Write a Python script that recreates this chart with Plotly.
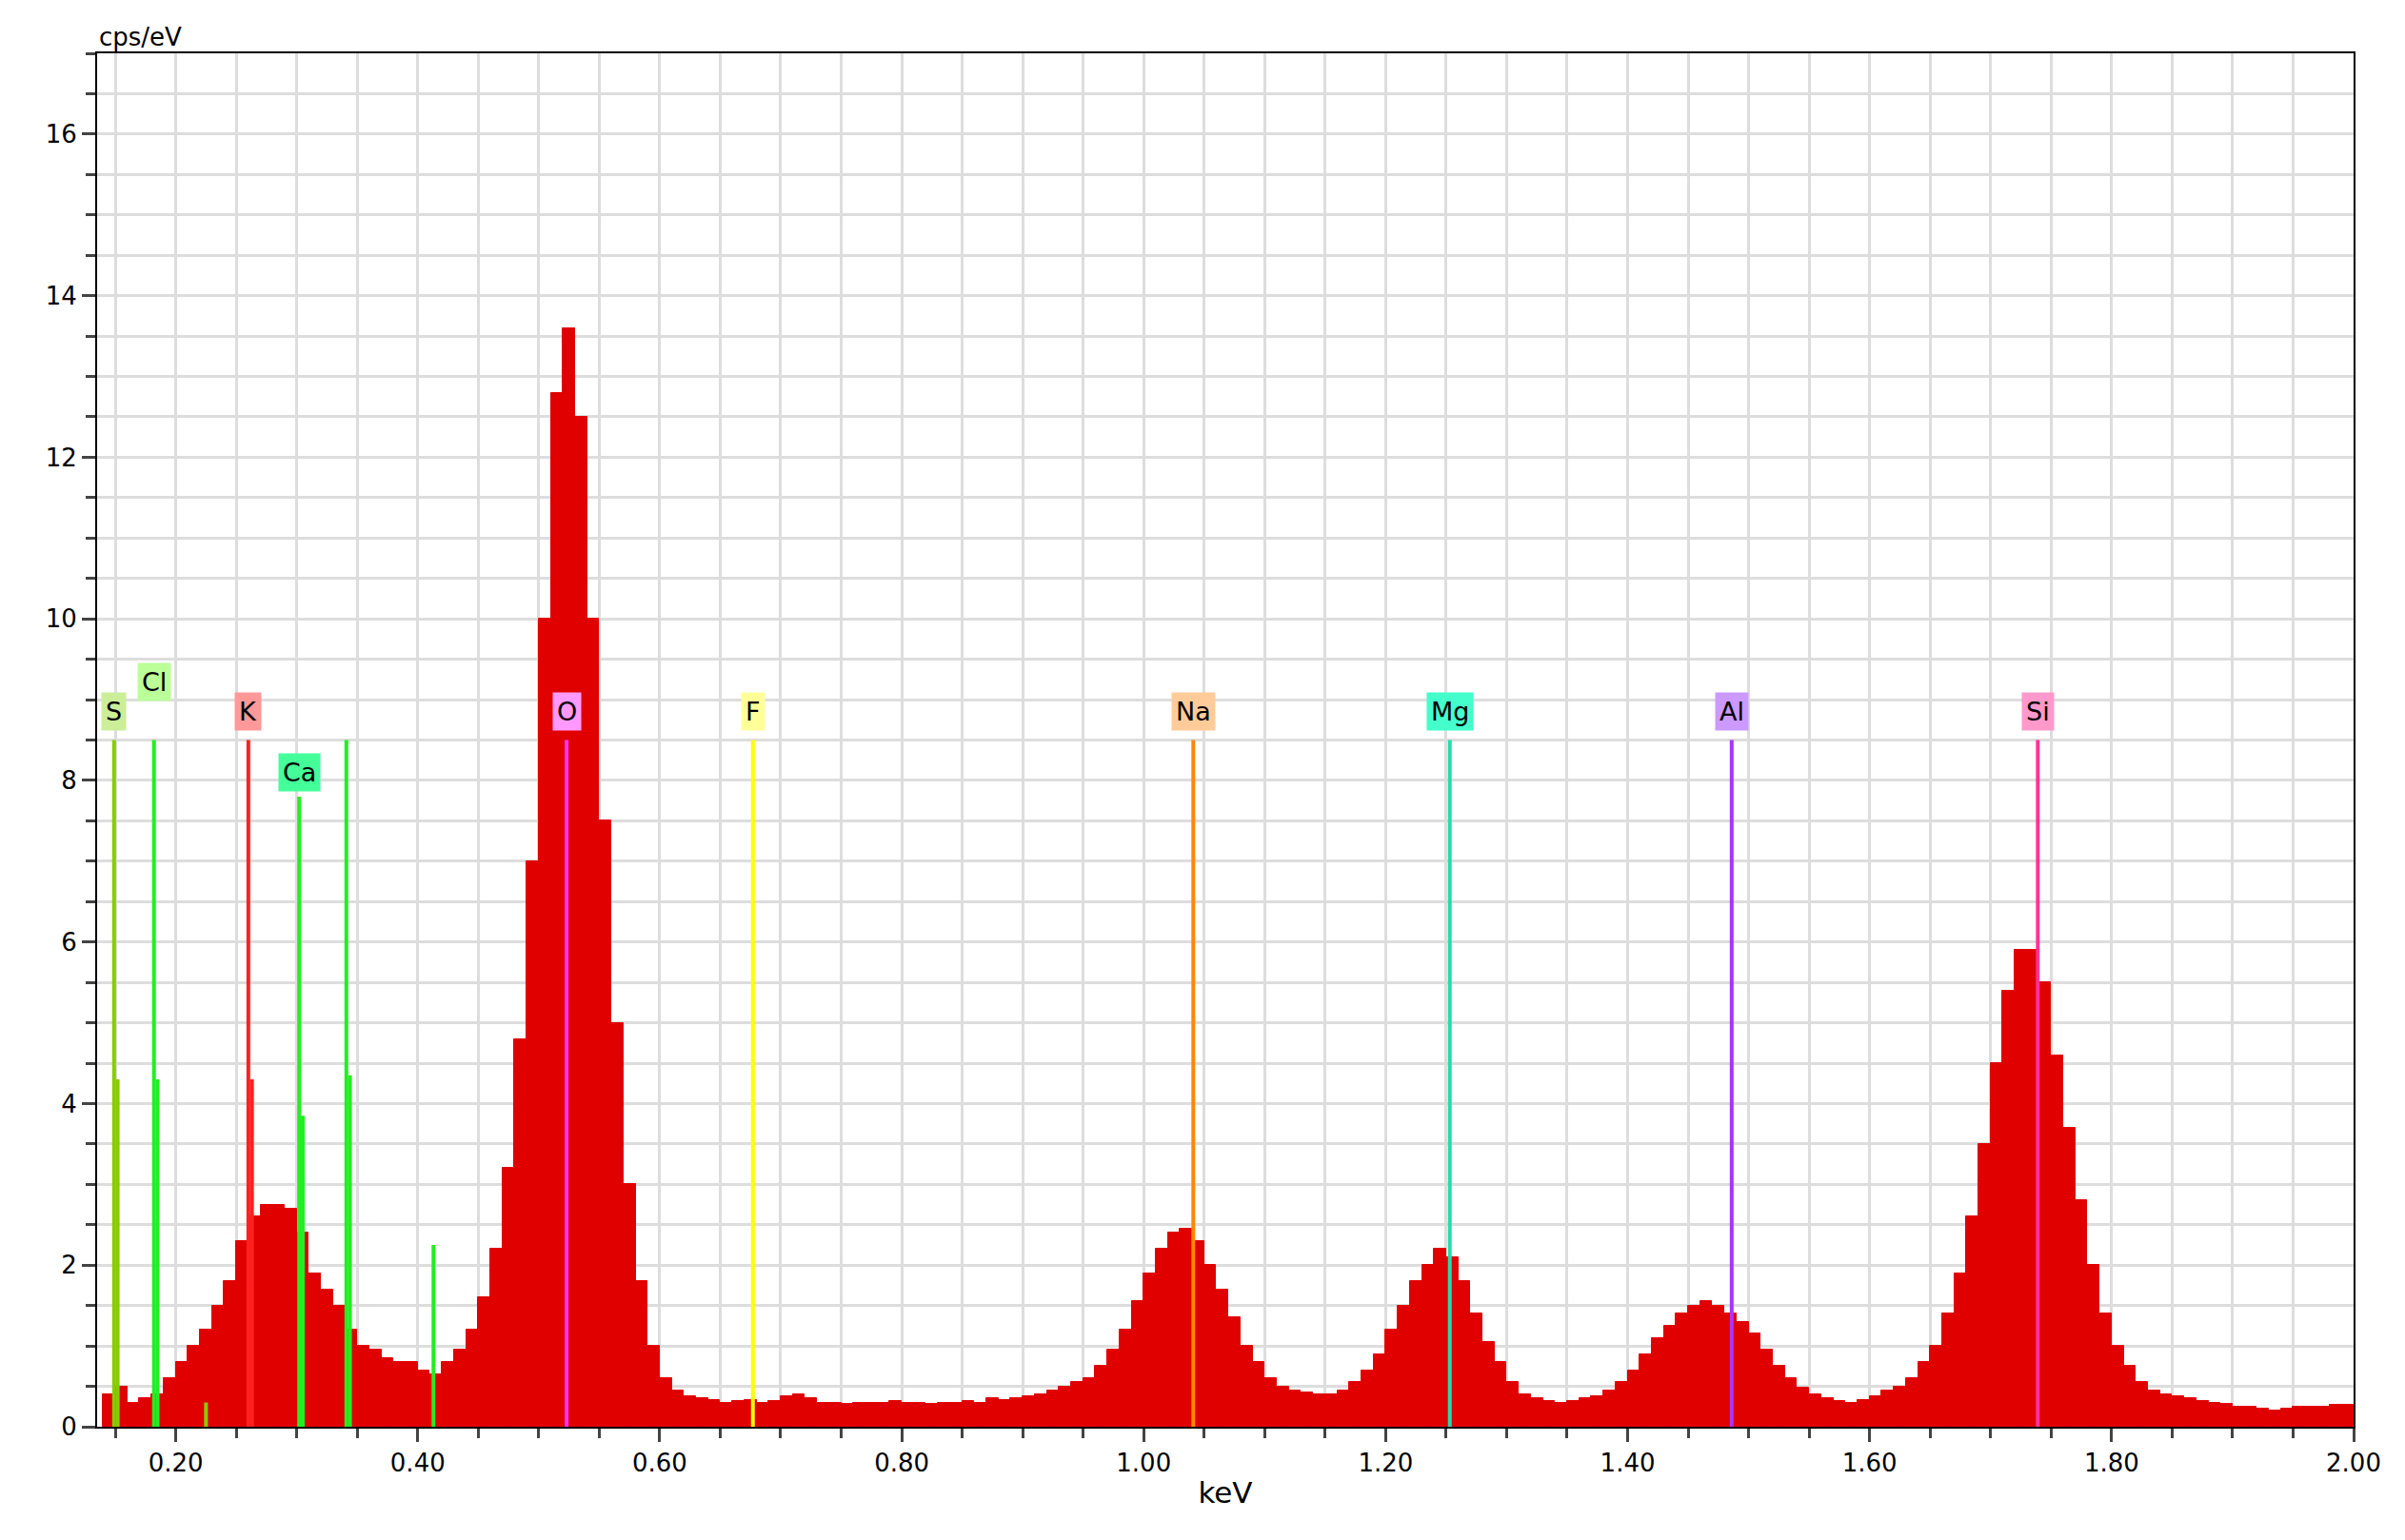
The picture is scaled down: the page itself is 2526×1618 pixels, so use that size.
import plotly.graph_objects as go

# spectrum, 10 eV channels starting at 0.14 keV
energy_start = 0.14
counts = [
    0.4, 0.5, 0.3, 0.35, 0.4, 0.6, 0.8, 1.0, 1.2, 1.5,
    1.8, 2.3, 2.6, 2.75, 2.75, 2.7, 2.4, 1.9, 1.7, 1.5,
    1.2, 1.0, 0.95, 0.85, 0.8, 0.8, 0.7, 0.65, 0.8, 0.95,
    1.2, 1.6, 2.2, 3.2, 4.8, 7.0, 10.0, 12.8, 13.6, 12.5,
    10.0, 7.5, 5.0, 3.0, 1.8, 1.0, 0.6, 0.45, 0.38, 0.35,
    0.33, 0.3, 0.32, 0.33, 0.3, 0.32, 0.38, 0.4, 0.35, 0.3,
    0.3, 0.28, 0.3, 0.3, 0.3, 0.32, 0.3, 0.3, 0.28, 0.3,
    0.3, 0.32, 0.3, 0.35, 0.33, 0.35, 0.38, 0.4, 0.45, 0.5,
    0.55, 0.6, 0.75, 0.95, 1.2, 1.55, 1.9, 2.2, 2.4, 2.45,
    2.3, 2.0, 1.7, 1.35, 1.0, 0.8, 0.6, 0.5, 0.45, 0.42,
    0.4, 0.4, 0.45, 0.55, 0.7, 0.9, 1.2, 1.5, 1.8, 2.0,
    2.2, 2.1, 1.8, 1.4, 1.05, 0.8, 0.55, 0.4, 0.35, 0.32,
    0.3, 0.32, 0.35, 0.38, 0.45, 0.55, 0.7, 0.9, 1.1, 1.25,
    1.4, 1.5, 1.55, 1.5, 1.4, 1.3, 1.15, 0.95, 0.75, 0.6,
    0.48, 0.4, 0.35, 0.32, 0.3, 0.33, 0.38, 0.45, 0.5, 0.6,
    0.8, 1.0, 1.4, 1.9, 2.6, 3.5, 4.5, 5.4, 5.9, 5.9,
    5.5, 4.6, 3.7, 2.8, 2.0, 1.4, 1.0, 0.75, 0.55, 0.45,
    0.4, 0.38, 0.35, 0.32, 0.3, 0.28, 0.25, 0.25, 0.22, 0.2,
    0.22, 0.25, 0.25, 0.25, 0.27, 0.27,
]
energies = [round(energy_start + 0.01 * i + 0.005, 3) for i in range(len(counts))]

# element markers
elements = ["S", "Cl", "K", "Ca", "O", "F", "Na", "Mg", "Al", "Si"]
element_kev = [0.149, 0.182, 0.260, 0.302, 0.523, 0.677, 1.041, 1.253, 1.486, 1.739]
element_height = [8.5, 8.5, 8.5, 7.8, 8.5, 8.5, 8.5, 8.5, 8.5, 8.5]
label_y = [8.85, 9.22, 8.85, 8.1, 8.85, 8.85, 8.85, 8.85, 8.85, 8.85]
line_colors = ["#88cc00", "#22ee22", "#ff2020", "#22ee22", "#ff33ff",
               "#ffff00", "#ff8800", "#22ddaa", "#aa33ff", "#ff3399"]
label_colors = ["#ccee99", "#bbff99", "#ff9999", "#44ff99", "#ff99ff",
                "#ffff99", "#ffcc99", "#44ffcc", "#cc99ff", "#ff99cc"]

# extra (unlabelled) escape/sum lines
extra_kev = [0.152, 0.185, 0.263, 0.305, 0.341, 0.344, 0.413, 0.225]
extra_height = [4.3, 4.3, 4.3, 3.85, 8.5, 4.35, 2.25, 0.3]
extra_colors = ["#88cc00", "#22ee22", "#ff2020", "#22ee22", "#22ee22",
                "#22ee22", "#22ee22", "#88cc00"]

fig = go.Figure()
fig.add_trace(go.Bar(x=energies, y=counts, width=0.01,
                     marker=dict(color="#e00000", line=dict(width=1, color="#e00000"))))

for k, h, c in zip(element_kev + extra_kev, element_height + extra_height,
                   line_colors + extra_colors):
    fig.add_trace(go.Scatter(x=[k, k], y=[0, h], mode="lines",
                             line=dict(color=c, width=4)))

for name, k, ly, bg in zip(elements, element_kev, label_y, label_colors):
    fig.add_annotation(x=k, y=ly, text=name, showarrow=False, bgcolor=bg,
                       font=dict(size=27, color="black"), borderpad=4)

fig.add_annotation(x=0, y=1, xref="paper", yref="paper", text="cps/eV",
                   showarrow=False, xanchor="left", yanchor="bottom",
                   font=dict(size=26, color="black"))

fig.update_layout(
    width=2526, height=1618, showlegend=False, bargap=0,
    plot_bgcolor="white", paper_bgcolor="white",
    font=dict(family="DejaVu Sans", size=26, color="black"),
    margin=dict(l=94, r=62, t=48, b=127),
    xaxis=dict(range=[0.135, 2.0], tickvals=[0.2, 0.4, 0.6, 0.8, 1.0, 1.2, 1.4, 1.6, 1.8, 2.0],
               tickformat=".2f", ticks="outside", ticklen=14, tickwidth=3,
               showgrid=True, gridcolor="#dddddd", gridwidth=3,
               minor=dict(dtick=0.05, showgrid=True, gridcolor="#dddddd", gridwidth=3,
                          ticks="outside", ticklen=10, tickwidth=3),
               showline=True, linecolor="black", linewidth=2, mirror=True,
               title=dict(text="keV", standoff=6), zeroline=False),
    yaxis=dict(range=[0, 17], dtick=2, ticks="outside", ticklen=14, tickwidth=3,
               showgrid=True, gridcolor="#dddddd", gridwidth=3,
               minor=dict(dtick=0.5, showgrid=True, gridcolor="#dddddd", gridwidth=3,
                          ticks="outside", ticklen=10, tickwidth=3),
               showline=True, linecolor="black", linewidth=2, mirror=True,
               zeroline=False),
)

fig.write_html("out.html")
